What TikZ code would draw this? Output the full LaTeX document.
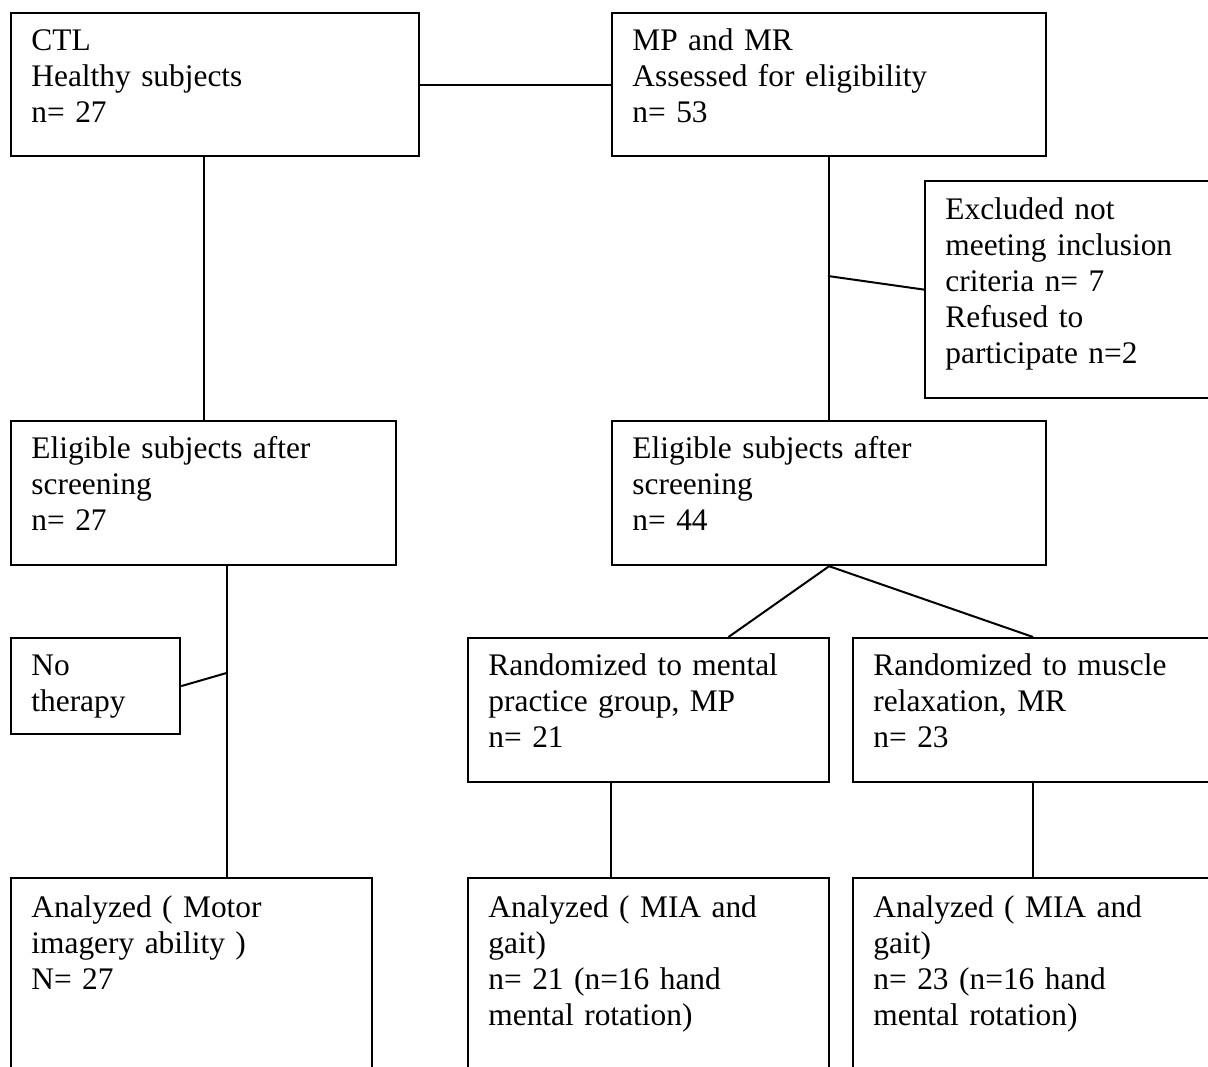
\documentclass[tikz,border=0pt]{standalone}
\usepackage{fontspec}
\setmainfont{Liberation Serif}
\usetikzlibrary{calc}
\begin{document}
\begin{tikzpicture}[x=0.5pt,y=-0.5pt,
    box/.style={draw,line width=1.1pt,anchor=north west,inner sep=0pt},
    txt/.style={anchor=base west,inner sep=0pt,text width=200pt,align=left,
          font=\fontsize{15.7}{18.1}\selectfont},
    con/.style={line width=1pt}]
  \useasboundingbox (0,0) rectangle (1208,1066);
  % boxes
  \node[box,minimum width=204pt,minimum height=71.5pt] (ctl) at (10,12) {};
  \node[box,minimum width=217pt,minimum height=71.5pt] (mpmr) at (611,12) {};
  \node[box,minimum width=150pt,minimum height=108.5pt] (excl) at (924,180) {};
  \node[box,minimum width=192.5pt,minimum height=72pt] (elig1) at (10,420) {};
  \node[box,minimum width=217pt,minimum height=72pt] (elig2) at (611,420) {};
  \node[box,minimum width=84.5pt,minimum height=48pt] (nother) at (10,637) {};
  \node[box,minimum width=180.5pt,minimum height=72pt] (randmp) at (467,637) {};
  \node[box,minimum width=180pt,minimum height=72pt] (randmr) at (852,637) {};
  \node[box,minimum width=180.5pt,minimum height=100pt] (anl1) at (10,877) {};
  \node[box,minimum width=180.5pt,minimum height=100pt] (anl2) at (467,877) {};
  \node[box,minimum width=180pt,minimum height=100pt] (anl3) at (852,877) {};
  % texts
  \node[txt] (ctl-t) at ([shift={(21,38)}]ctl.north west) {CTL\\Healthy subjects\\n= 27};
  \node[txt] (mpmr-t) at ([shift={(21,38)}]mpmr.north west) {MP and MR\\Assessed for eligibility\\n= 53};
  \node[txt] (excl-t) at ([shift={(21,39)}]excl.north west) {Excluded not\\meeting inclusion\\criteria n= 7\\Refused to\\participate n=2};
  \node[txt] (elig1-t) at ([shift={(21,38)}]elig1.north west) {Eligible subjects after\\screening\\n= 27};
  \node[txt] (elig2-t) at ([shift={(21,38)}]elig2.north west) {Eligible subjects after\\screening\\n= 44};
  \node[txt] (nother-t) at ([shift={(21,38)}]nother.north west) {No\\therapy};
  \node[txt] (randmp-t) at ([shift={(21,38)}]randmp.north west) {Randomized to mental\\practice group, MP\\n= 21};
  \node[txt] (randmr-t) at ([shift={(21,38)}]randmr.north west) {Randomized to muscle\\relaxation, MR\\n= 23};
  \node[txt] (anl1-t) at ([shift={(21,40)}]anl1.north west) {Analyzed ( Motor\\imagery ability )\\N= 27};
  \node[txt] (anl2-t) at ([shift={(21,40)}]anl2.north west) {Analyzed ( MIA and\\gait)\\n= 21 (n=16 hand\\mental rotation)};
  \node[txt] (anl3-t) at ([shift={(21,40)}]anl3.north west) {Analyzed ( MIA and\\gait)\\n= 23 (n=16 hand\\mental rotation)};
  % connectors
  \coordinate (exj) at (828,276);
  \coordinate (lx) at (226.5,0);
  \coordinate (ntj) at (226.5,673);
  \draw[con] (ctl.east) -- (mpmr.west);
  \draw[con] (elig1.north |- ctl.south) -- (elig1.north);
  \draw[con] (mpmr.south) -- (elig2.north);
  \draw[con] (excl.west) -- (exj);
  \draw[con] (elig1.south -| lx) -- (anl1.north -| lx);
  \draw[con] (nother.east) -- (ntj);
  \draw[con] (elig2.south) -- ($(randmp.north west)!0.72!(randmp.north east)$);
  \draw[con] (elig2.south) -- (randmr.north);
  \draw[con] (randmp.south -| elig2.west) -- (anl2.north -| elig2.west);
  \draw[con] (randmr.south) -- (anl3.north);
\end{tikzpicture}
\end{document}
